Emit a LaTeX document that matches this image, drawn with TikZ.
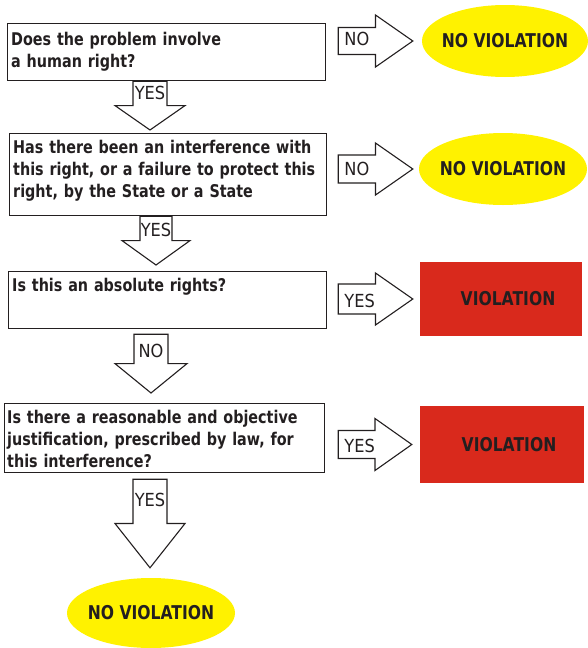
\documentclass[tikz,border=0pt]{standalone}
\usepackage{fontspec}
\setmainfont{DejaVu Sans}[FakeStretch=0.82]
\newfontfamily\answerfont{DejaVu Sans}[FakeStretch=0.9]
\usepackage{tikz}
\usetikzlibrary{calc,shapes.geometric,positioning}
\definecolor{ink}{RGB}{35,31,32}
\definecolor{okyellow}{RGB}{255,242,0}
\definecolor{badred}{RGB}{217,41,28}

\newcommand{\blockarrow}[4]{%
  \path (#1) coordinate (ba) (#2) coordinate (bb) ($(ba)!.5!(bb)$) coordinate (bm);
  \draw[blockline] ($(ba)!#3!90:(bb)$) -- ($(bm)!#3!90:(bb)$) -- ($(bm)!#4!90:(bb)$) -- (bb)
    -- ($(bm)!#4!-90:(bb)$) -- ($(bm)!#3!-90:(bb)$) -- ($(ba)!#3!-90:(bb)$) -- cycle;}

\begin{document}
\begin{tikzpicture}[x=1pt, y=-1pt,
  question/.style={draw=ink, line width=1.2pt, anchor=north west, inner sep=0pt},
  qtext/.style={anchor=north west, text width=314pt, align=left, inner sep=2pt, text=ink,
    font=\fontsize{17.5}{22}\selectfont\bfseries},
  noviolation/.style={ellipse, fill=okyellow, inner xsep=-14pt, inner ysep=0pt, minimum width=166pt, minimum height=72pt,
    text=ink, font=\fontsize{19}{22}\selectfont\bfseries},
  violation/.style={rectangle, fill=badred, inner sep=0pt, minimum width=162pt, minimum height=74pt,
    text=ink, font=\fontsize{19}{22}\selectfont\bfseries},
  blockline/.style={draw=ink, fill=white, line width=1.1pt, line join=miter},
  answer/.style={inner sep=1pt, text=ink, font=\fontsize{18}{20}\answerfont}]
  \useasboundingbox (0,0) rectangle (587,648);

  \node[question, minimum width=318pt, minimum height=57pt] at (7,23) (q1) {};
  \node[qtext] at ($(q1.north west)+(2,7)$) (t1) {Does the problem involve\\a human right?};
  \node[question, minimum width=317pt, minimum height=82pt] at (9,133) (q2) {};
  \node[qtext] at ($(q2.north west)+(2,5)$) (t2) {Has there been an interference with\\this right, or a failure to protect this\\right, by the State or a State};
  \node[question, minimum width=318pt, minimum height=57pt] at (8,271) (q3) {};
  \node[qtext] at ($(q3.north west)+(2,5)$) (t3) {Is this an absolute rights?};
  \node[question, minimum width=320pt, minimum height=69pt] at (4,403) (q4) {};
  \node[qtext] at ($(q4.north west)+(1,5)$) (t4) {Is there a reasonable and objective\\justification, prescribed by law, for\\this interference?};

  \node[noviolation] at (505,41) (r1) {NO VIOLATION};
  \node[noviolation, minimum width=168pt] at (503,169) (r2) {NO VIOLATION};
  \node[violation] at (501,299) (r3) {\hspace*{14pt}VIOLATION};
  \node[violation, minimum width=164pt, minimum height=77pt] at (502,444.5) (r4) {\hspace*{14pt}VIOLATION};
  \node[noviolation, minimum width=168pt, minimum height=70pt] at (151,613) (r5) {NO VIOLATION};

  \coordinate (d1) at ($(q1.south west)+(143,0)$);
  \coordinate (d2) at ($(q2.south west)+(147,0)$);
  \coordinate (d3) at ($(q3.south west)+(143,5)$);
  \coordinate (d4) at ($(q4.south west)+(146,6)$);
  \blockarrow{d1}{$(d1 |- q2.north)+(0,-3)$}{17pt}{35pt}
  \blockarrow{d2}{$(d2 |- q3.north)+(0,-6)$}{16pt}{34pt}
  \blockarrow{d3}{$(d3 |- q4.north)+(0,-10)$}{17pt}{36pt}
  \blockarrow{d4}{$(d4 |- r5.north)+(0,-10)$}{17pt}{35pt}
  \node[answer, anchor=north] at ($(d1)+(0,4)$) (a1) {YES};
  \node[answer, anchor=north] at ($(d2)+(0,6)$) (a2) {YES};
  \node[answer, anchor=north] at ($(d3)+(0,9)$) (a3) {NO};
  \node[answer, anchor=north] at ($(d4)+(0,13)$) (a4) {YES};

  \coordinate (h1) at ($(q1.east |- r1.west)+(12,0)$);
  \coordinate (h2) at ($(q2.east |- r2.west)+(11,0)$);
  \coordinate (h3) at ($(q3.east |- r3.west)+(11,0)$);
  \coordinate (h4) at ($(q4.east |- r4.west)+(13,0)$);
  \blockarrow{h1}{$(r1.west)+(-9,0)$}{13.5pt}{26pt}
  \blockarrow{h2}{$(r2.west)+(-6,0)$}{14pt}{26pt}
  \blockarrow{h3}{$(r3.west)+(-7,0)$}{15pt}{26pt}
  \blockarrow{h4}{$(r4.west)+(-8,0)$}{14pt}{26pt}
  \node[answer, anchor=west] at ($(h1)+(5,-2)$) (b1) {NO};
  \node[answer, anchor=west] at ($(h2)+(5,0)$) (b2) {NO};
  \node[answer, anchor=west] at ($(h3)+(5,2)$) (b3) {YES};
  \node[answer, anchor=west] at ($(h4)+(5,1)$) (b4) {YES};
\end{tikzpicture}
\end{document}
